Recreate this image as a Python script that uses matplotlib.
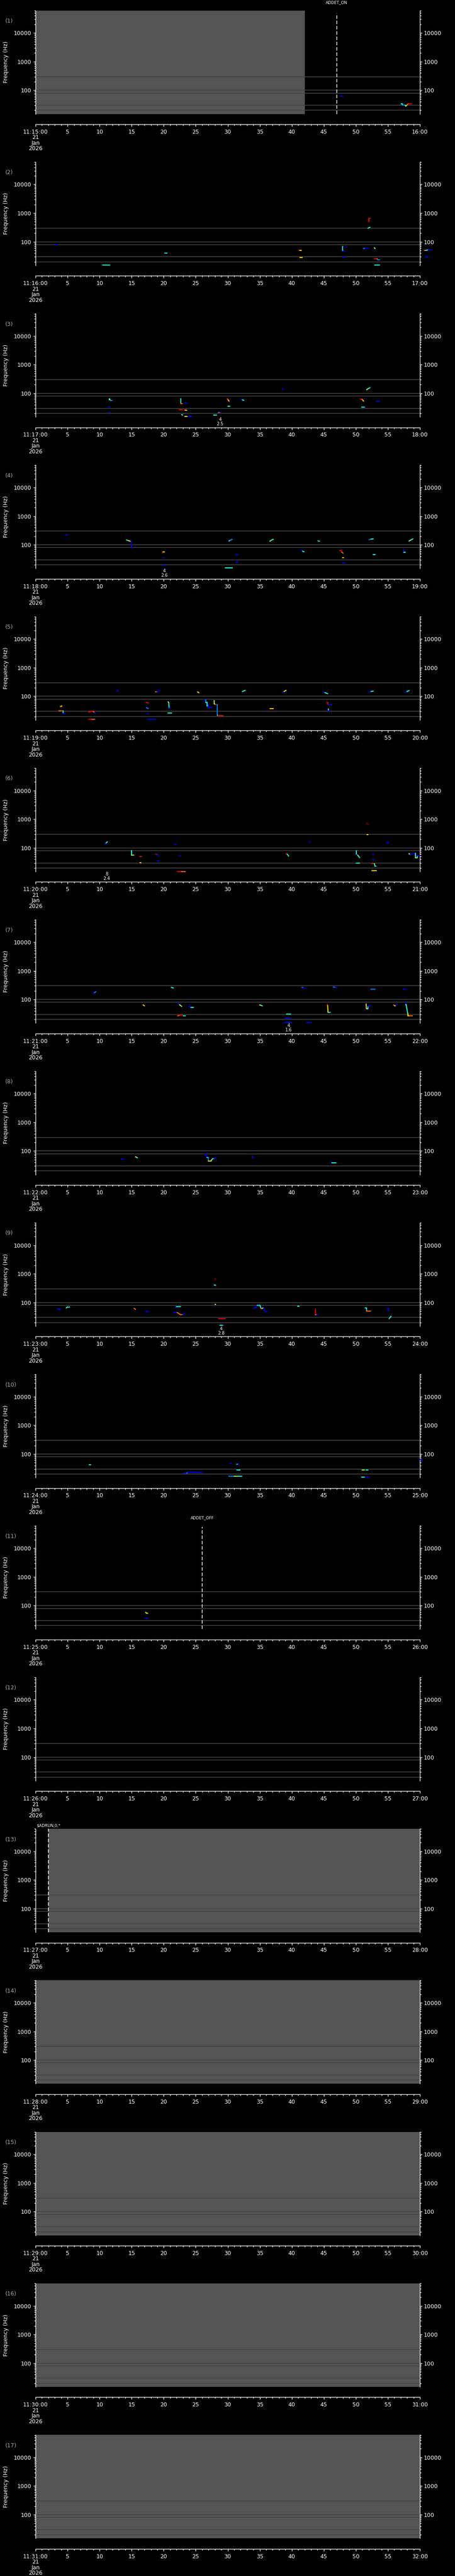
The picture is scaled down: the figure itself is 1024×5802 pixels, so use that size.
import matplotlib
matplotlib.use("Agg")
import matplotlib.pyplot as plt
from matplotlib.ticker import LogLocator, NullFormatter, FixedLocator

# ---------------- data ----------------
N_PANELS = 17
START_MINUTES = list(range(15, 32))          # 11:15 ... 11:31
REF_LINES = [20, 30, 80, 100, 300]            # Hz
Y_TICKS = [100, 1000, 10000]
Y_TICK_LABELS = ["100", "1000", "10000"]
X_MAJOR = list(range(0, 61, 5))

# grey (no data) spans per panel index (0-based): (start s, end s)
GREY_SPANS = {0: (0, 42), 12: (2, 60), 13: (0, 60), 14: (0, 60), 15: (0, 60), 16: (0, 60)}
# event markers: panel, time (s), label, label y (px below panel top), line top frac
EVENT_PANELS = [0, 10, 12]
EVENT_TIMES = [47, 26, 2]
EVENT_LABELS = ["ADDET_ON", "ADDET_OFF", "$ADRUN,0,*"]
EVENT_LABEL_Y = [6, 6, 16]
EVENT_TOP = [0.972, 0.987, 1.0]
# small numeric annotations below panels
ANN_PANELS = [2, 3, 5, 6, 8]
ANN_TIMES = [28.8, 20.1, 11.1, 39.5, 29.0]
ANN_TOP = ["4", "4", "8", "4", "4"]
ANN_BOT = ["2.5", "2.6", "2.4", "1.6", "2.8"]

# colour codes (position on jet colormap)
B, LB, C, G, Y, O, R, DR = 0.12, 0.25, 0.38, 0.55, 0.68, 0.8, 0.9, 1.0

# tracks: (times s, freqs Hz, colour per segment)
P1 = [
    ([47.6, 47.9], [62.8, 62.8], [B]),
    ([57.1, 57.3, 57.3, 57.7, 57.8, 58.0, 58.2, 58.7], [33, 33, 30, 30, 28, 31, 34, 34], [C, C, LB, C, G, O, R]),
]
P2 = [
    ([3.1, 3.4], [80.7, 80.7], [B]),
    ([10.5, 11.6], [15.2, 15.2], [C]),
    ([20.2, 20.5], [39.9, 39.9], [C]),
    ([41.1, 41.3, 41.5], [51, 50, 50], [R, Y]),
    ([41.3, 41.6], [28.6, 28.6], [Y]),
    ([47.9, 47.9, 48.2], [68, 46, 46], [C, B]),
    ([48.4, 48.5], [64, 66], [B]),
    ([47.9, 48.3], [29.6, 29.6], [B]),
    ([51.2, 51.5, 51.6, 51.9], [58, 60, 60, 58], [LB, B, B]),
    ([52.05, 52.05, 52.2], [500, 643, 643], [R, R]),
    ([51.9, 52.2], [300, 320], [C]),
    ([52.9, 53.0], [62, 58], [G]),
    ([52.9, 53.3, 53.4, 53.7], [25.7, 25.7, 23.9, 23.9], [R, O, LB]),
    ([52.9, 53.7], [15.6, 15.6], [C]),
    ([60.7, 61.0, 61.3, 61.9], [50.6, 50.6, 52.5, 52.5], [O, C, B]),
    ([60.9, 61.3], [29.6, 30.5], [B]),
]
P3 = [
    ([11.5, 11.55, 11.7, 11.9], [60, 64, 57, 57], [G, C, LB]),
    ([11.4, 11.6], [33.4, 33.4], [B]),
    ([11.4, 11.6], [21.7, 21.7], [B]),
    ([22.7, 22.7, 22.9], [64, 43.4, 43.4], [C, O]),
    ([23.3, 23.6], [46, 46], [B]),
    ([22.4, 22.9], [26.9, 26.9], [R]),
    ([23.2, 23.4, 23.6], [26.9, 26, 26], [R, Y]),
    ([22.8, 22.95], [18, 17.5], [C]),
    ([23.3, 23.8, 24.4], [15.4, 15.4, 15.4], [Y, B]),
    ([27.8, 28.2], [17.1, 17.1], [C]),
    ([28.6, 28.8, 29.0], [21.7, 21.7, 21.7], [O, B]),
    ([29.9, 30.0, 30.1, 30.2], [64, 62, 57, 53.8], [R, O, Y]),
    ([30.0, 30.3], [35.9, 35.9], [C]),
    ([32.1, 32.3, 32.5], [62, 59, 57], [B, C]),
    ([38.5, 38.7], [140, 137], [B]),
    ([50.7, 51.0, 51.1, 51.2], [63, 62, 57, 53.8], [R, O, Y]),
    ([50.9, 51.3], [33.4, 33.4], [C]),
    ([51.7, 51.9, 52.2], [133, 145, 157], [G, C]),
    ([53.3, 53.7], [53, 53], [B]),
]
P4 = [
    ([4.7, 5.0], [220, 220], [B]),
    ([14.2, 14.5, 14.8], [148, 140, 134], [C, Y]),
    ([14.9, 14.9, 15.0, 15.1], [137, 100, 85, 80], [B, B, B]),
    ([19.85, 19.9, 20.1], [52, 56, 56], [R, Y]),
    ([19.9, 20.05], [35, 35], [B]),
    ([19.9, 20.2], [19.2, 19.2], [B]),
    ([30.2, 30.4, 30.7], [136, 145, 156], [C, LB]),
    ([31.3, 31.6], [46.4, 46.4], [B]),
    ([31.3, 31.6], [25.4, 25.4], [B]),
    ([29.6, 30.7], [15.7, 15.7], [C]),
    ([36.6, 36.8, 37.1], [134, 145, 156], [G, C]),
    ([41.5, 41.7, 41.9], [64.6, 60, 57.4], [B, C]),
    ([44.1, 44.3], [137, 135], [C]),
    ([47.5, 47.7, 47.8, 48.0], [64, 64, 56, 51], [R, R, O]),
    ([47.9, 48.1], [36.2, 36.2], [Y]),
    ([47.9, 48.3], [23.7, 23.7], [B]),
    ([52.1, 52.4, 52.7], [151, 160, 162], [LB, C]),
    ([52.7, 53.0], [46.4, 46.4], [C]),
    ([57.5, 57.5, 57.7], [64.6, 54.7, 54.7], [B, C]),
    ([58.3, 58.6, 58.9], [136, 148, 162], [G, C]),
]
P5 = [
    ([3.9, 4.1], [44, 46.4], [Y]),
    ([3.7, 4.1, 4.3, 4.3, 4.6], [31.4, 31.4, 31.4, 25, 25], [O, R, C, B]),
    ([8.3, 8.6, 9.0, 9.2, 9.3], [28.3, 30, 30, 27, 25.5], [R, R, O, B]),
    ([8.3, 8.8, 9.2], [15.7, 15.7, 15.7], [R, O]),
    ([12.7, 12.9], [151, 162], [B]),
    ([17.3, 17.6], [61.6, 58.8], [R]),
    ([17.3, 17.6], [40.3, 37.5], [LB]),
    ([17.4, 17.6], [25.4, 25.4], [B]),
    ([17.5, 18.7], [15.7, 15.7], [B]),
    ([18.7, 19.0, 19.4], [147, 147, 162], [O, B]),
    ([20.7, 20.8, 20.85, 21.0], [64.6, 60, 39.4, 39.4], [Y, C, B]),
    ([20.7, 21.2], [26.3, 26.3], [C]),
    ([25.3, 25.5], [144, 134], [Y]),
    ([26.3, 26.6, 26.6, 26.8, 26.8, 27.0], [77, 77, 60.9, 60.9, 46.4, 46.4], [B, LB, C, C, C]),
    ([27.0, 27.0, 27.1, 27.6], [54, 41.7, 41.7, 41.7], [B, B, B]),
    ([27.9, 27.9, 28.1, 28.3], [71, 55, 52, 52], [G, G, R]),
    ([28.4, 28.4, 28.5, 29.3], [52, 21.8, 21.3, 21.3], [LB, C, R]),
    ([36.6, 37.1], [37.5, 37.5], [Y]),
    ([32.3, 32.7], [147, 162], [C]),
    ([38.5, 38.8, 39.1], [137, 148, 162], [B, Y]),
    ([44.9, 45.2, 45.6], [144, 135, 124], [B, C]),
    ([45.5, 45.6, 45.7, 46.3], [61.6, 61.6, 51, 51], [R, R, B]),
    ([45.7, 45.7, 45.9], [36, 31, 31], [C, B]),
    ([52.1, 52.4, 52.7], [141, 148, 153], [B, C]),
    ([57.7, 58.0, 58.3], [137, 148, 159], [B, C]),
]
P6 = [
    ([10.8, 11.0, 11.2], [133, 148, 163], [B, C]),
    ([14.9, 15.0, 15.0, 15.3], [80, 80, 56, 56], [R, C, G]),
    ([16.3, 16.5], [50.8, 50.8], [R]),
    ([16.3, 16.45], [30.9, 30.9], [Y]),
    ([18.8, 19.0, 19.2], [60.7, 58, 52], [R, B]),
    ([19.0, 19.2], [35.6, 35.6], [B]),
    ([21.7, 21.9], [132, 132], [B]),
    ([22.4, 22.6], [54.6, 54.6], [B]),
    ([22.2, 22.8, 23.4], [15.2, 15.2, 15.2], [R, O]),
    ([39.1, 39.3, 39.5], [63, 60, 52], [R, C]),
    ([42.7, 42.9], [155, 155], [B]),
    ([50.1, 50.1, 50.3, 50.4, 50.6], [80, 56, 56, 52, 45.7], [C, B, Y, C]),
    ([50.1, 50.6], [29.8, 29.8], [C]),
    ([51.7, 51.8, 51.9], [744, 700, 660], [DR, DR]),
    ([51.75, 51.9], [294, 294], [Y]),
    ([52.6, 52.7], [63, 58.6], [B]),
    ([52.6, 52.8], [39.2, 39.2], [B]),
    ([52.5, 52.9, 53.0, 53.1], [28.1, 28.1, 23, 23], [R, C, C]),
    ([52.5, 53.2], [16.2, 16.2], [Y]),
    ([54.9, 55.1], [141, 163], [B]),
    ([58.3, 58.5, 58.8, 59.2, 59.3, 59.3, 59.55, 59.55, 60.0], [63, 59, 61, 64, 64, 46, 46, 54, 54], [G, B, B, B, C, Y, C, B]),
]
P7 = [
    ([9.0, 9.2, 9.4], [162, 172, 187], [B, LB]),
    ([16.8, 17.0], [64.6, 59.5], [Y]),
    ([21.2, 21.5], [263, 251], [C]),
    ([22.3, 22.5, 22.8], [74.4, 65, 57.4], [B, G]),
    ([24.1, 24.1, 24.3, 24.6], [64.6, 53, 53, 53], [B, B, C]),
    ([22.2, 22.5, 22.9, 23.1, 23.4], [26.6, 28.3, 28.3, 26.6, 26.6], [O, R, R, C]),
    ([35.0, 35.2, 35.4], [64.6, 62, 59.5], [Y, C]),
    ([39.2, 39.8], [31.4, 31.4], [C]),
    ([39.0, 39.8], [22.3, 22.3], [B]),
    ([38.8, 40.0], [15.7, 15.7], [B]),
    ([41.6, 41.8, 42.1], [266, 255, 242], [LB, B]),
    ([42.3, 43.0], [15.7, 15.7], [B]),
    ([45.6, 45.6, 45.65, 45.7, 46.0], [66.9, 60.9, 35.8, 35.8, 35.8], [R, Y, Y, C]),
    ([46.5, 46.8, 47.0], [273, 262, 254], [LB, B]),
    ([51.6, 51.65, 51.9], [69.3, 47.5, 47.5], [Y, G]),
    ([51.9, 51.9, 52.4], [47.5, 59.5, 59.5], [C, B]),
    ([52.4, 53.0], [228, 228], [LB]),
    ([55.9, 56.1, 56.2, 56.4], [64, 59.5, 64, 67.7], [O, Y, B]),
    ([57.4, 57.8], [228, 228], [B]),
    ([57.75, 57.75, 57.85, 58.1, 58.1, 58.4, 58.8], [81.8, 66.2, 66.2, 31.8, 26.4, 26.4, 26.4], [B, C, C, Y, Y, O]),
]
P8 = [
    ([13.4, 13.7], [52.3, 52.3], [B]),
    ([15.6, 15.8, 15.9], [62.6, 60, 57.6], [Y, C]),
    ([26.5, 26.6, 26.8, 27.0, 27.0, 27.4, 27.6, 27.9, 28.1], [70, 78, 59, 59, 45, 45, 53, 53, 61], [B, B, C, LB, Y, G, C, B]),
    ([33.8, 34.0], [63.4, 57.6], [B]),
    ([46.1, 46.3, 46.9], [42, 38.1, 38.1], [B, C]),
]
P9 = [
    ([3.4, 3.6, 3.9], [62.6, 58, 57], [B, B]),
    ([4.8, 4.9, 5.3], [64.3, 68, 68], [C, C]),
    ([15.4, 15.6], [62.6, 57.6], [O]),
    ([17.3, 17.6], [48.2, 48.2], [B]),
    ([21.9, 22.0, 22.6], [65, 72.8, 72.8], [B, C]),
    ([21.6, 22.1, 22.3, 22.6, 23.0, 23.3], [44.3, 44.3, 42.5, 37.6, 37.6, 42.5], [B, O, O, O, B]),
    ([28.0, 28.0, 28.1], [709, 636, 650], [DR, DR]),
    ([27.9, 28.1], [408, 400], [C]),
    ([28.0, 28.1], [84.7, 84.7], [G]),
    ([28.6, 29.6], [27.0, 27.0], [R]),
    ([28.8, 29.2], [16.2, 16.2], [C]),
    ([34.1, 34.4, 34.6, 35.0, 35.2, 35.4, 35.6, 35.8, 36.1], [62.6, 65, 80.2, 80.2, 62.6, 62.6, 66, 50, 47.5], [B, B, C, C, O, G, B, B]),
    ([40.9, 41.1], [73.8, 73.8], [C]),
    ([43.7, 43.7, 43.9, 44.1], [57.6, 37.2, 38, 38], [R, O, B]),
    ([51.5, 51.7, 51.7, 52.3], [64.3, 64.3, 50.2, 50.2], [C, C, O]),
    ([55.0, 55.0, 55.2], [66.1, 51.6, 51.6], [B, B]),
    ([55.2, 55.5], [27.4, 33.2], [C]),
]
P10 = [
    ([8.4, 8.6], [41.7, 41.7], [C]),
    ([23.1, 23.6, 23.8, 25.2, 25.3, 26.1], [21.4, 21.4, 23.2, 23.2, 22.6, 22.6], [B, LB, B, B, B]),
    ([30.4, 30.6], [48, 48], [B]),
    ([31.4, 31.6, 31.7], [43.8, 43.8, 41.7], [C, B]),
    ([31.4, 31.9], [27.3, 27.3], [C]),
    ([30.2, 31.0, 31.6, 32.2], [16.6, 16.6, 16.6, 16.6], [LB, G, C]),
    ([51.0, 51.3], [27.3, 27.3], [G]),
    ([51.6, 51.9], [27.3, 27.3], [C]),
    ([50.9, 51.3], [15.7, 15.7], [C]),
    ([51.6, 52.0], [15.7, 15.7], [B]),
    ([60.0, 60.2, 60.4], [66, 60, 57.4], [B, B]),
]
P11 = [
    ([17.2, 17.3, 17.5], [58, 55, 53.6], [Y, G]),
    ([17.2, 17.5], [36.5, 34.8], [B]),
]
PANEL_TRACKS = [P1, P2, P3, P4, P5, P6, P7, P8, P9, P10, P11, [], [], [], [], [], []]

# ---------------- layout ----------------
W, H = 1024, 5802
DPI = 100
PLOT_L, PLOT_R = 80, 945
PLOT_T, PLOT_B = 23.5, 256.5
AXIS_Y = 280
PITCH = H / N_PANELS

plt.rcParams["font.family"] = ["DejaVu Sans"]
fig = plt.figure(figsize=(W / DPI, H / DPI), dpi=DPI, facecolor="black")
jet = plt.get_cmap("jet")


def px2fig(x, y):
    return x / W, 1 - y / H


for k in range(N_PANELS):
    off = k * PITCH
    ax = fig.add_axes([PLOT_L / W, 1 - (off + PLOT_B) / H,
                       (PLOT_R - PLOT_L) / W, (PLOT_B - PLOT_T) / H])
    ax.set_facecolor("black")
    ax.set_xlim(0, 60)
    ax.set_yscale("log")
    ax.set_ylim(15, 61000)

    # spines
    ax.spines["top"].set_visible(False)
    for s in ("left", "right", "bottom"):
        ax.spines[s].set_color("white")
        ax.spines[s].set_linewidth(1.0)
    ax.spines["bottom"].set_position(("outward", (AXIS_Y - PLOT_B) * 72 / DPI))

    # y ticks
    ax.yaxis.set_major_locator(FixedLocator(Y_TICKS))
    ax.set_yticklabels(Y_TICK_LABELS)
    ax.yaxis.set_minor_locator(LogLocator(base=10, subs=range(2, 10)))
    ax.yaxis.set_minor_formatter(NullFormatter())
    ax.tick_params(axis="y", which="both", left=True, right=True,
                   labelleft=True, labelright=True, direction="out",
                   colors="white")
    ax.tick_params(axis="y", which="major", length=3.6, width=1.0, pad=3.0,
                   labelsize=9)
    ax.tick_params(axis="y", which="minor", length=2.0, width=1.0)

    # x ticks
    m0 = START_MINUTES[k]
    xlabels = ["11:%02d:00\n21\nJan\n2026" % m0] + [str(v) for v in X_MAJOR[1:-1]] + ["%02d:00" % (m0 + 1)]
    ax.set_xticks(X_MAJOR)
    ax.set_xticklabels(xlabels)
    ax.set_xticks(list(range(61)), minor=True)
    ax.tick_params(axis="x", which="major", length=3.8, width=1.0, pad=4.0,
                   labelsize=9, colors="white", direction="out")
    ax.tick_params(axis="x", which="minor", length=2.0, width=1.0,
                   colors="white", direction="out")
    for lbl in ax.get_xticklabels():
        lbl.set_linespacing(0.95)

    # grey no-data span
    if k in GREY_SPANS:
        a, b = GREY_SPANS[k]
        ax.axvspan(a, b, color="#545454", lw=0, zorder=0.5)

    # reference lines
    for f in REF_LINES:
        ax.axhline(f, color="#444444", lw=1.2, zorder=1)

    # tracks
    for t, fr, cols in PANEL_TRACKS[k]:
        for i in range(len(t) - 1):
            ax.plot(t[i:i + 2], fr[i:i + 2], color=jet(cols[i]), lw=1.6,
                    solid_capstyle="projecting", clip_on=False, zorder=3)

    # events
    for p, te, lab, ly, top in zip(EVENT_PANELS, EVENT_TIMES, EVENT_LABELS,
                                   EVENT_LABEL_Y, EVENT_TOP):
        if p == k:
            ln = ax.axvline(te, ymin=0, ymax=top, color="white", lw=1.1, zorder=4)
            ln.set_dashes([5.2, 2.6])
            xp = PLOT_L + te / 60 * (PLOT_R - PLOT_L)
            fig.text(*px2fig(xp, off + ly), lab, color="white", fontsize=6.5,
                     ha="center", va="center")

    # annotations
    for p, ta, a1, a2 in zip(ANN_PANELS, ANN_TIMES, ANN_TOP, ANN_BOT):
        if p == k:
            xp = PLOT_L + ta / 60 * (PLOT_R - PLOT_L)
            fig.text(*px2fig(xp, off + 262.5), a1, color="white", fontsize=7,
                     ha="center", va="center")
            fig.text(*px2fig(xp, off + 272.5), a2, color="white", fontsize=7,
                     ha="center", va="center")

    # y label and panel number
    fig.text(*px2fig(14, off + 140), "Frequency (Hz)", rotation=90,
             color="white", fontsize=9, ha="center", va="center")
    fig.text(*px2fig(12, off + 47.5), "(%d)" % (k + 1), color="#aaaaaa",
             fontsize=9, ha="left", va="center")

fig.savefig("out.png", dpi=DPI, facecolor="black")
